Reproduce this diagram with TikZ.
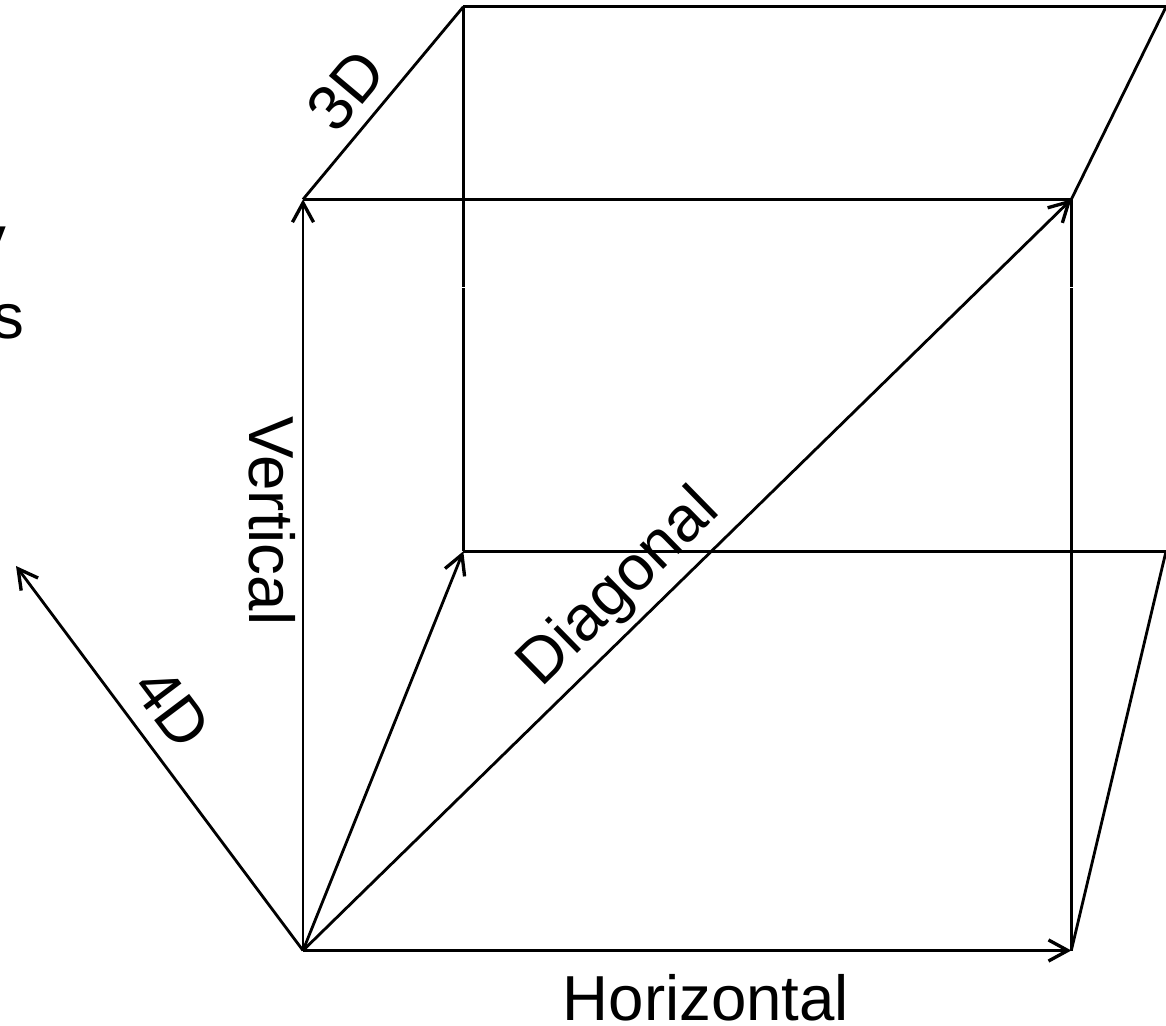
\documentclass[tikz,border=0pt]{standalone}
\usepackage{fontspec}
\setmainfont{Liberation Sans}
\usetikzlibrary{arrows.meta}

\begin{document}
\begin{tikzpicture}[x=0.02cm,y=-0.02cm,>={Straight Barb[length=11pt,width=12pt,line width=1.9pt]},
 font=\fontsize{36.2}{42}\selectfont,
 edgeline/.style={line width=1.9pt},
 vecline/.style={line width=1.6pt,->},
 lbl/.style={inner sep=0pt}]
 \useasboundingbox (0,0) rectangle (1166,1026);

 \coordinate (o) at (303,950.5);
 \coordinate (h) at (1071.3,950.5);
 \coordinate (v) at (303,199.4);
 \coordinate (d) at (1071.3,199.4);
 \coordinate (b) at (463.3,551.3);
 \coordinate (bv) at (463.3,6.8);
 \coordinate (br) at (1166,551.3);
 \coordinate (tr) at (1166,6.8);
 \coordinate (w) at (16,566);
 \coordinate (g1a) at (463.3,286.8);
 \coordinate (g1b) at (463.3,287.8);
 \coordinate (g2a) at (1071.3,286.8);
 \coordinate (g2b) at (1071.3,287.8);

 % back face
 \draw[edgeline] (b)--(g1b);
 \draw[edgeline] (g1a)--(bv);
 \draw[edgeline] (bv)--(tr);
 \draw[edgeline] (b)--(br);

 % front face
 \draw[edgeline] (v)--(d);
 \draw[edgeline] (h)--(g2b);
 \draw[edgeline] (g2a)--(d);

 % slanted edges
 \draw[vecline,-] (v)--(bv);
 \draw[vecline,-] (d)--(tr);
 \draw[vecline,-] (h)--(br);

 % vectors from the origin
 \draw[vecline] (o)--(h);
 \draw[vecline] (o)--(v);
 \draw[vecline] (o)--(b);
 \draw[vecline] (o)--(d);
 \draw[vecline] (o)--(w);

 \node[lbl] (horizontal) at (706,998) {Horizontal};
 \node[lbl,rotate=-90] (vertical) at (272,521) {Vertical};
 \node[lbl,rotate=44.4] (diagonal) at (620,589) {Diagonal};
 \node[lbl,rotate=50] (threed) at (346,90) {3D};
 \node[lbl,rotate=-53] (fourd) at (172,708) {4D};
 \node[lbl,anchor=base east] (cuty) at (7,261) {y};
 \node[lbl,anchor=base east] (cuts) at (25,339) {s};
\end{tikzpicture}
\end{document}
